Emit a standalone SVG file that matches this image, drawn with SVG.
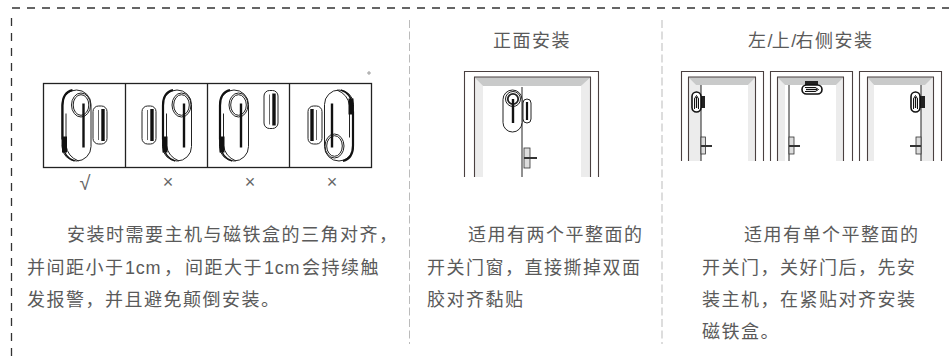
<svg xmlns="http://www.w3.org/2000/svg" xmlns:xlink="http://www.w3.org/1999/xlink" width="949" height="356" viewBox="0 0 949 356">
<style>
text{font-family:"Noto Sans CJK SC","Liberation Sans",sans-serif;fill:#5a5a5a;font-size:18px;letter-spacing:1.500px}
.n{font-family:"Liberation Sans",sans-serif;font-size:18px;letter-spacing:.8px}
.s{font-family:"Liberation Sans",sans-serif;letter-spacing:-.8px}
.m{fill:#666;font-family:"Liberation Sans",sans-serif;font-size:18px;text-anchor:middle;letter-spacing:0}
.b{fill:none;stroke:#222;stroke-width:1}
.f{fill:#fff;stroke:#222;stroke-width:1}
.k{fill:none;stroke:#111;stroke-width:2.200}
.fr{fill:none;stroke:#4a4040;stroke-width:1.100}
.dash{fill:none;stroke:#333;stroke-width:1.300;stroke-dasharray:8 7}
.vd{fill:none;stroke:#bbb;stroke-width:1;stroke-dasharray:8 3.500}
.lk{fill:#ddd;stroke:#333;stroke-width:.8}
.h{stroke:#333;stroke-width:2;fill:none}
</style>
<defs>
<g id="host">
<rect x="-14.500" y="-35.500" width="29" height="71" rx="14.500" class="f"/>
<path d="M-14 14V-20Q-14-33-4-35.500" class="k"/>
<path d="M-10.500 -12V20Q-9 31 2 35.500" class="b"/>
<path d="M-14 20Q-12 32-2 35.500" class="k" style="stroke-width:1.500"/>
<rect x="-14.500" y="11" width="5" height="16" fill="#111"/>
<ellipse cx="4.500" cy="-20.500" rx="9.500" ry="12" class="b"/>
<ellipse cx="4.500" cy="-20.500" rx="7.800" ry="10.300" class="b"/>
<path d="M7-22V22" class="k" style="stroke-width:2.400"/>
</g>
<g id="mag">
<rect x="-7" y="-19" width="14" height="38" rx="5.500" class="f"/>
<path d="M-1.500 -15V15" class="b" style="stroke-width:.7"/>
<path d="M3-16V16" class="k" style="stroke-width:3.400"/>
</g>
<g id="shost">
<rect x="-4.500" y="-10" width="9" height="20" rx="4.500" fill="#fff" stroke="#111" stroke-width="1.600"/>
<path d="M-2.200-3L0-6.500L2.200-3M-2-3V7M2-3V7" fill="none" stroke="#111"/>
<path d="M0-5V6" class="k" style="stroke-width:1.300"/>
</g>
</defs>
<g id="border">
<path class="dash" d="M11.500 356V15M12 8H949"/>
<path class="vd" d="M409.500 20V344M662 20V344"/>
</g>
<g id="panel-1">
<rect x="43.500" y="83.500" width="328" height="84" class="b" style="stroke-width:1.300"/>
<path class="b" style="stroke-width:1.300" d="M125.500 83.500V167.500M207.500 83.500V167.500M289.500 83.500V167.500"/>
<use xlink:href="#host" href="#host" x="76.500" y="125.500"/><use xlink:href="#mag" href="#mag" x="100" y="125"/>
<use xlink:href="#mag" href="#mag" x="149" y="125"/><use xlink:href="#host" href="#host" x="177" y="125.500"/>
<use xlink:href="#host" href="#host" x="234" y="125.500"/><use xlink:href="#mag" href="#mag" x="271" y="109.500"/>
<use xlink:href="#mag" href="#mag" transform="rotate(180 315 125)" x="315" y="125"/><use xlink:href="#host" href="#host" transform="rotate(180 339 125.500)" x="339" y="125.500"/>
<circle cx="369" cy="73" r="1.200" fill="none" stroke="#555" stroke-width=".6"/>
<text class="m" x="85" y="190" style="font-size:20px">√</text><text class="m" x="168" y="188">×</text><text class="m" x="250" y="188">×</text><text class="m" x="332" y="188">×</text>
<text x="67" y="241">安装时需要主机与磁铁盒的三角对齐，</text>
<text x="27" y="274">并间距小于<tspan class="n" x="125">1cm</tspan><tspan x="164">，</tspan><tspan x="185">间距大于</tspan><tspan class="n" x="264">1cm</tspan><tspan x="302">会持续触</tspan></text>
<text x="27" y="306">发报警，并且避免颠倒安装。</text>
</g>
<g id="panel-2">
<text x="493" y="46.500">正面安装</text>
<path d="M474 77L483 86V177H474ZM591 77L581 86V177H591Z" fill="#ececec"/>
<path d="M474 77H591L581 86H483Z" fill="#c9caca"/>
<path class="fr" d="M464.500 177V71.500H598.500V177M474.500 177V77H590.500V177"/>
<path d="M522 87V177" class="b"/>
<rect x="503" y="90" width="19" height="42" rx="9.500" class="f"/>
<circle cx="513" cy="99" r="7.500" class="b"/><circle cx="513" cy="99" r="5.200" fill="none" stroke="#222" stroke-width="1.800"/>
<path d="M513 99V123" class="k" style="stroke-width:2.400"/>
<rect x="523" y="99" width="8" height="24" rx="4" class="f"/><path d="M527 102V120" class="k"/>
<rect x="524" y="148" width="6" height="20" class="lk"/><path class="h" d="M524 158H537"/>
<text x="468" y="241">适用有两个平整面的</text>
<text x="427" y="274">开关门窗，直接撕掉双面</text>
<text x="427" y="306">胶对齐黏贴</text>
</g>
<g id="panel-3">
<text x="748" y="46.500">左<tspan class="s">/</tspan>上<tspan class="s">/</tspan>右侧安装</text>
<path d="M688 77L696 85V161H688ZM756 77L748 85V161H756ZM777 77L785 85V161H777ZM844 77L836 85V161H844ZM867 77L874 85V161H867ZM933 77L921 85V161H933Z" fill="#ececec"/>
<path d="M696 85H701V161H696Z" fill="#ececec"/>
<path d="M688 77H756L748 85H696ZM777 77H844L836 85H785ZM867 77H933L925 85H874Z" fill="#c9caca"/>
<path class="fr" d="M681.500 161V71.500H763.500V161M688.500 161V77H755.500V161M770.500 161V71.500H852.500V161M777.500 161V77H843.500V161M859.500 161V71.500H941.500V161M867.500 161V77H933.500V161"/>
<path class="b" d="M701 85V161M789 85V161M921 85V161"/>
<rect x="700" y="96" width="5" height="12" fill="#222"/><use xlink:href="#shost" href="#shost" x="696.500" y="102"/>
<rect x="805" y="81" width="13" height="5" fill="#222"/><use xlink:href="#shost" href="#shost" transform="translate(812 89.500) rotate(90)"/>
<rect x="920" y="96" width="5" height="12" fill="#222"/><use xlink:href="#shost" href="#shost" x="915.500" y="102"/>
<rect x="701" y="137" width="4.500" height="17" class="lk"/><path class="h" d="M701 146H712"/>
<rect x="789" y="137" width="5" height="17" class="lk"/><path class="h" d="M789 146H800"/>
<rect x="916" y="137" width="5" height="17" class="lk"/><path class="h" d="M921 146H910"/>
<text x="744" y="241">适用有单个平整面的</text>
<text x="702" y="274">开关门，关好门后，先安</text>
<text x="702" y="306">装主机，在紧贴对齐安装</text>
<text x="702" y="338">磁铁盒。</text>
</g>
</svg>
